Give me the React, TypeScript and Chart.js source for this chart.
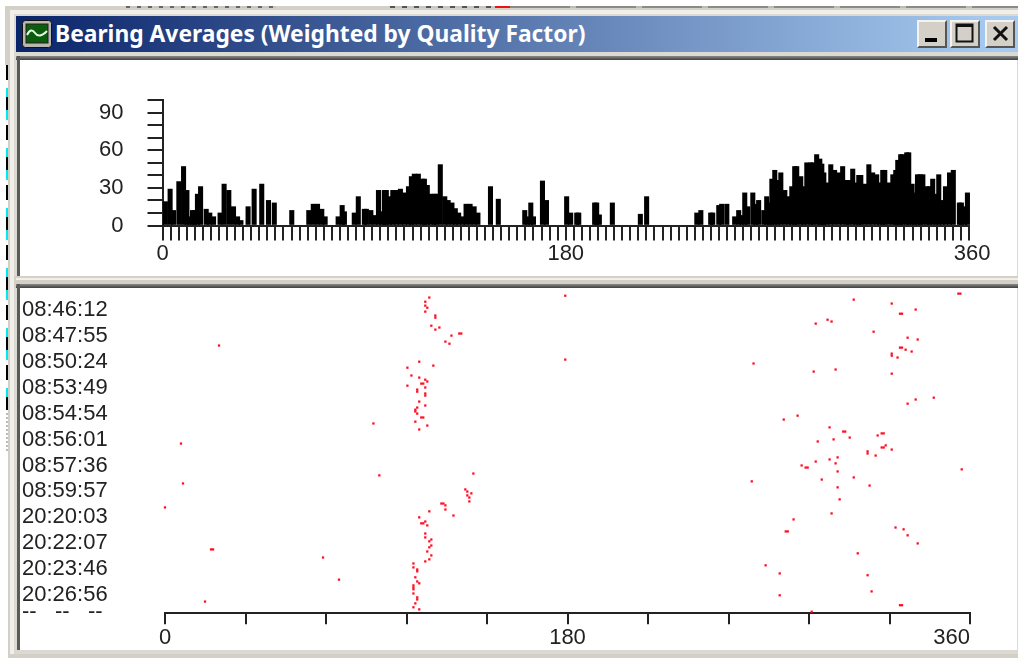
import React, { useEffect, useRef } from "react";
import { Chart, registerables } from "chart.js";

Chart.register(...registerables);

const windowTitle = "Bearing Averages (Weighted by Quality Factor)";

// Histogram: bar centre bearing (degrees) and weighted count
const barDegrees = [
  1.3, 3.4, 4.9, 7.3, 9.4, 10.9, 11.9, 13.4, 14.3, 15.6, 17, 19.5, 21.1, 22.8, 25.7, 27.5, 29.6, 31.7, 33.5, 35,
  38.2, 40.9, 44.3, 47.3, 49.9, 57.7, 65.3, 67.3, 69.2, 71.1, 72.6, 78.4,
  80.2, 81.2, 85.6, 87.4, 90.1, 91, 93, 94.7, 96.4, 97.8, 99, 99.9, 101.3, 102.8, 104.4, 106.2, 108, 109.8,
  111.1, 112.4, 114.2, 116, 116.9, 118.2, 119.6, 121.3, 122.2, 124, 126, 127.5, 129.2, 130.7, 132.2, 133.9,
  135.5, 137.3, 139.1, 140.8, 146.4, 149.9, 161.7, 163, 164.4, 165.6, 169.6, 171.4, 180.4, 182.2, 184.9, 185.8,
  192.9, 193.8, 195, 200.8, 213.3, 216.1,
  238.5, 240.3, 244.7, 245.6, 248.3, 249.6, 251.9, 255.4, 257.2, 258.6, 259.9, 261.2, 263.5, 264.8, 266.1,
  268.4, 269.7, 271, 272, 273.3, 274.6, 276, 277.8, 279.5, 280.9, 282.2, 283.1, 284.9, 286.2, 287.6, 289.4,
  290.3, 292, 293.4, 294.3, 295.2, 296.5, 298.3, 300, 301.9, 303.6, 305.4, 306.3, 308.1, 309.5, 310.8, 311.7,
  313.5, 315.3, 317, 318.8, 320.2, 321.5, 322.4, 324.2, 326, 327.3, 328.2, 329.5, 330.4, 332.2, 333.1, 334.6,
  335.6, 337, 338.2, 339.4, 341.2, 342.3, 343.8, 345.2, 346.5, 348, 349.5, 351.3, 353, 355.7, 356.6, 358, 359.3,
];
const barValues = [
  19, 29, 12, 35, 47, 28, 7, 12, 12, 25, 31, 13, 10, 7, 10, 33, 28, 15, 7, 4,
  15, 29, 33, 20, 18, 12, 12, 17, 17, 13, 7, 7,
  16, 11, 10, 23, 13, 13, 12, 8, 28, 11, 28, 28, 23, 28, 28, 29, 26, 31,
  39, 41, 41, 37, 37, 32, 25, 25, 25, 48.5, 23, 20, 18, 13.5, 10, 7,
  17, 17, 15, 10, 31, 21, 12, 7, 18, 7, 35.5, 20, 23, 10, 10, 10,
  18, 18, 8.5, 18, 9, 23,
  10, 12, 10, 10, 16, 17, 17, 7, 12, 8, 26, 15, 26, 17, 20,
  12, 23, 18, 37, 44, 36, 42, 28, 23, 31, 47, 47, 39, 31, 50, 50,
  50, 56.5, 53, 49, 42, 34, 48.5, 44, 42, 47, 36, 36, 45, 34, 40, 40,
  33, 48.5, 42, 40.5, 34, 44, 44, 34, 40.5, 44, 52, 56.5, 56.5, 58, 58, 33,
  26, 40.5, 40.5, 40.5, 31, 31, 37, 25, 40.5, 20, 31, 42, 44, 18, 18, 15, 26,
];

const topXLabels = [0, 180, 360];
const topYLabels = [0, 30, 60, 90];
const bottomXLabels = [0, 180, 360];

// Time axis labels and their positions on the row scale
const timeLabels = [
  "08:46:12", "08:47:55", "08:50:24", "08:53:49", "08:54:54", "08:56:01",
  "08:57:36", "08:59:57", "20:20:03", "20:22:07", "20:23:46", "20:26:56", "--   --   --",
];
const rowPositions = [0.06, 1.06, 2.06, 3.06, 4.06, 5.06, 6.04, 7.02, 8.02, 9, 10.02, 11.02, 11.65];

// Individual bearing detections: bearing (degrees) and time row
const hitBearings = [
  24.15, 7.16, 8.05, 0, 20.6, 21.5, 70.66, 77.8, 17.9,
  118.2, 116.4, 116.4, 117.3, 116.4, 120.9, 120.9, 119.1, 122.7, 120.9, 128.1, 131.6, 132.5, 125.4, 127.2,
  113.7, 120, 108.4, 110.2, 113.7, 116.4, 117.3, 114.6, 115.5, 108.4, 116.4, 112.8, 112.8, 116.4, 116.4,
  113.7, 116.4, 112.8, 111.95, 111.95, 112.8, 114.6, 115.5, 93.2, 111.95, 117.3, 113.7,
  95.85, 137.9, 134.3, 135.2, 137, 135.2, 136.1, 136.1, 123.6, 124.5, 125.4, 125.4, 118.2, 129,
  113.7, 116.4, 114.6, 115.5, 117.3, 116.4, 116.4, 119.1, 118.2, 119.1, 118.2, 117.3, 119.1, 118.2, 116.4,
  111.1, 111.1, 112.8, 112.8, 111.95, 112.8, 113.7, 111.1, 111.1, 111.1, 111.1, 112.8, 112.8, 111.95, 111.1, 113.7,
  179, 179,
  354.8, 355.7, 308, 325, 335.7, 328.7, 329.6, 291, 296.3, 298.1, 316.9, 332.1, 336.6, 328.7, 329.6, 331.2,
  333.9, 325, 325, 327.6, 263.2, 290.1, 299.9, 325, 343.8, 335.7, 332.1, 282.9, 276.7, 297.2, 303.3, 304.2,
  306.2, 299, 291.9, 318.7, 320.5, 321.4, 322.3, 320.5, 321.4, 325, 314.2, 314.2, 317.8, 300.8, 297.2, 291,
  299.9, 284.7, 286.5, 287.4, 300.8, 356.3, 308, 293.7, 262.4, 315.1, 300.8, 301.7, 298.1, 281.1, 326.7,
  330.3, 332.1, 336.6, 277.6, 278.5, 309.8, 268.6, 274.9, 314.2, 316, 274.9, 328.7, 329.6, 289.2,
];
const hitRows = [
  1.44, 5.2, 6.73, 7.65, 9.26, 9.26, 9.57, 10.42, 11.26,
  -0.4, -0.24, -0.09, -0.01, 0.14, 0.29, 0.37, 0.68, 0.75, 0.83, 1.06, 0.98, 0.98, 1.29, 1.37,
  2.06, 2.21, 2.29, 2.59, 2.67, 2.75, 2.82, 2.9, 2.9, 2.98, 3.05, 3.13, 3.21, 3.28, 3.36,
  3.59, 3.74, 3.82, 3.9, 3.97, 4.05, 4.2, 4.2, 4.43, 4.36, 4.51, 4.66,
  6.42, 6.35, 6.96, 7.04, 7.11, 7.19, 7.27, 7.42, 7.5, 7.5, 7.57, 7.73, 7.8, 7.96,
  8.03, 8.19, 8.26, 8.26, 8.34, 8.65, 8.8, 8.88, 8.95, 9.11, 9.18, 9.34, 9.49, 9.64, 9.72,
  9.8, 9.95, 10.03, 10.1, 10.33, 10.49, 10.56, 10.64, 10.72, 10.79, 10.95, 11.1, 11.18, 11.33, 11.48, 11.56,
  -0.47, 1.98,
  -0.55, -0.55, -0.32, -0.17, 0.06, 0.22, 0.22, 0.6, 0.45, 0.52, 0.91, 1.14, 1.21, 1.52, 1.52, 1.6,
  1.67, 1.75, 1.83, 1.9, 2.13, 2.44, 2.36, 2.52, 3.44, 3.51, 3.67, 4.13, 4.28, 4.58, 4.74, 4.74,
  4.97, 5.04, 5.12, 4.89, 4.81, 4.81, 5.27, 5.35, 5.35, 5.43, 5.5, 5.58, 5.66, 5.73, 5.81, 5.89,
  5.96, 6.04, 6.12, 6.12, 6.27, 6.19, 6.5, 6.58, 6.65, 6.81, 6.88, 7.34, 7.88, 8.11, 8.42,
  8.49, 8.72, 9.03, 8.57, 8.57, 9.41, 9.87, 10.18, 10.25, 10.87, 11.02, 11.4, 11.4, 11.65,
];

const FACE = "#d4d0c8";
const INK = "#222222";
const FONT = { family: "'Liberation Sans', Arial, sans-serif", size: 22 };

function pos(left: number, top: number, width: number, height: number, extra: any = {}) {
  return { position: "absolute", left, top, width, height, ...extra } as React.CSSProperties;
}

function SystemButton({ left, children }: { left: number; children: React.ReactNode }) {
  return (
    <div
      style={pos(left, 20, 30, 28, {
        background: FACE,
        boxSizing: "border-box",
        borderTop: "2px solid #f4f3ef",
        borderLeft: "2px solid #f4f3ef",
        borderRight: "2px solid #555",
        borderBottom: "2px solid #555",
      })}
    >
      <svg width="26" height="24" style={{ display: "block" }}>
        {children}
      </svg>
    </div>
  );
}

export default function App() {
  const topRef = useRef<HTMLCanvasElement>(null);
  const bottomRef = useRef<HTMLCanvasElement>(null);

  useEffect(() => {
    const top = new Chart(topRef.current!, {
      type: "bar",
      data: {
        datasets: [
          {
            label: "Bearing average",
            data: barDegrees.map((x, i) => ({ x, y: barValues[i] })),
            backgroundColor: "#000000",
            barThickness: 4.4,
            borderWidth: 0,
            clip: false as any,
          },
        ],
      },
      options: {
        responsive: false,
        animation: false,
        layout: { padding: { left: 0, right: 47, top: 40, bottom: 0 } },
        plugins: { legend: { display: false }, tooltip: { enabled: false } },
        scales: {
          x: {
            type: "linear",
            min: 0,
            max: 360,
            offset: false,
            afterFit: (s: any) => { s.height = 50.5; },
            border: { color: INK, width: 2 },
            grid: { drawOnChartArea: false, tickLength: 15, color: INK, lineWidth: 2, offset: false },
            ticks: {
              stepSize: 3.6,
              autoSkip: false,
              maxRotation: 0,
              minRotation: 0,
              padding: 0,
              color: INK,
              font: FONT,
              callback: (v: any) => {
                const r = Math.round(Number(v) * 10) / 10;
                if (!topXLabels.includes(r)) return "";
                return r === 360 ? " 360" : String(r);
              },
            },
          },
          y: {
            min: 0,
            max: 100,
            afterFit: (s: any) => { s.width = 142.5; s.paddingTop = 0; s.paddingBottom = 0; },
            border: { color: INK, width: 2 },
            grid: { drawOnChartArea: false, tickLength: 15, color: INK, lineWidth: 2 },
            ticks: {
              stepSize: 10,
              autoSkip: false,
              padding: 24,
              color: INK,
              font: FONT,
              callback: (v: any) => (topYLabels.includes(Number(v)) ? String(v) : ""),
            },
          },
        },
      },
    } as any);

    const bottom = new Chart(bottomRef.current!, {
      type: "scatter",
      data: {
        datasets: [
          {
            label: "Bearing",
            data: hitBearings.map((x, i) => ({ x, y: hitRows[i] })),
            backgroundColor: "#ff0a1e",
            pointStyle: "rect",
            pointRadius: 1.6,
            pointBorderWidth: 0,
            clip: false as any,
          },
        ],
      },
      options: {
        responsive: false,
        animation: false,
        layout: { padding: { left: 2, right: 46, top: 0, bottom: 0 } },
        plugins: { legend: { display: false }, tooltip: { enabled: false } },
        scales: {
          x: {
            type: "linear",
            min: 0,
            max: 360,
            afterFit: (s: any) => { s.height = 36.7; },
            border: { color: INK, width: 2 },
            grid: { drawOnChartArea: false, tickLength: 11, color: INK, lineWidth: 2 },
            ticks: {
              stepSize: 36,
              autoSkip: false,
              maxRotation: 0,
              minRotation: 0,
              padding: 0,
              color: INK,
              font: FONT,
              callback: (v: any) => {
                if (!bottomXLabels.includes(Number(v))) return "";
                return Number(v) === 360 ? "360      " : String(v);
              },
            },
          },
          y: {
            reverse: true,
            min: -0.613,
            max: 11.71,
            afterFit: (s: any) => { s.width = 143; s.paddingTop = 0; s.paddingBottom = 0; },
            afterBuildTicks: (s: any) => { s.ticks = rowPositions.map((value) => ({ value })); },
            border: { display: false },
            grid: { display: false, drawTicks: false },
            ticks: {
              autoSkip: false,
              crossAlign: "far",
              color: INK,
              font: FONT,
              callback: (_v: any, i: number) => timeLabels[i],
            },
          },
        },
      },
    } as any);

    return () => {
      top.destroy();
      bottom.destroy();
    };
  }, []);

  return (
    <div style={pos(0, 0, 1018, 658, { overflow: "hidden", background: "#fff", filter: "blur(0.45px)" })}>
      {/* screen fragments behind the window */}
      <div
        style={pos(6, 65, 2, 345, {
          background:
            "repeating-linear-gradient(180deg,#000 0 15px,#fff 15px 23px,#00e8f0 23px 32px,#000 32px 45px,#00e8f0 45px 55px,#fff 55px 60px)",
        })}
      />
      <div style={pos(6, 413, 2, 38, { background: "repeating-linear-gradient(180deg,#bbb 0 2px,#fff 2px 4px)" })} />

      {/* window frame */}
      <div style={pos(5, 6, 1013, 59, { background: FACE })} />
      <div style={pos(126, 6, 150, 2, { background: "repeating-linear-gradient(90deg,#666 0 4px,#c8c6c0 4px 11px)" })} />
      <div style={pos(390, 6, 105, 2, { background: "repeating-linear-gradient(90deg,#555 0 5px,#c8c6c0 5px 12px)" })} />
      <div style={pos(495, 6, 15, 2, { background: "#f01010" })} />
      <div style={pos(510, 6, 508, 2, { background: "repeating-linear-gradient(90deg,#8a8a86 0 60px,#bdbbb5 60px 66px)" })} />
      <div style={pos(8, 65, 1010, 593, { background: FACE })} />
      <div style={pos(10, 10, 1008, 644, { background: "#f1efea" })} />
      <div style={pos(14, 14, 1004, 640, { background: "#dcd9d2" })} />

      {/* title bar */}
      <div style={pos(16, 16, 1002, 36, { background: "linear-gradient(90deg,#0a246a,#a6caf0 98%)" })} />
      <svg style={pos(22, 20, 30, 28)} viewBox="0 0 30 28">
        <rect x="0.5" y="0.5" width="29" height="27" rx="3" fill="#b9b7b0" stroke="#111" />
        <rect x="4" y="4" width="22" height="19" fill="#0b5d0b" stroke="#222" />
        <path d="M5 15 Q9 7 13 13 T25 11" fill="none" stroke="#e8f8e8" strokeWidth="2" />
      </svg>
      <div
        style={pos(55, 16, 600, 36, {
          color: "#fff",
          font: "bold 22.8px 'Noto Sans', 'DejaVu Sans', sans-serif",
          lineHeight: "36px",
          whiteSpace: "nowrap",
        })}
      >
        {windowTitle}
      </div>
      <SystemButton left={917}>
        <rect x="6" y="16" width="12" height="4" fill="#000" />
      </SystemButton>
      <SystemButton left={950}>
        <rect x="4.5" y="2.5" width="16" height="17" fill="none" stroke="#111" strokeWidth="2" />
        <rect x="4" y="2" width="17" height="3" fill="#111" />
      </SystemButton>
      <SystemButton left={985}>
        <path d="M7 5 L20 18 M20 5 L7 18" stroke="#111" strokeWidth="3" />
      </SystemButton>

      {/* top panel */}
      <div style={pos(16, 56, 1002, 4, { background: "linear-gradient(180deg,#8a8a86,#3f3f3f)" })} />
      <div style={pos(17, 56, 3, 220, { background: "#5a5a58" })} />
      <div style={pos(20, 60, 997, 216, { background: "#fff" })} />
      <canvas ref={topRef} width={996} height={216} style={pos(20, 60, 996, 216, { display: "block" })} />

      {/* divider */}
      <div style={pos(14, 276, 1004, 12, { background: FACE })} />
      <div style={pos(16, 278, 1002, 2, { background: "#f1efea" })} />
      <div style={pos(16, 284, 1002, 4, { background: "linear-gradient(180deg,#8a8a86,#3f3f3f)" })} />

      {/* bottom panel */}
      <div style={pos(17, 284, 3, 366, { background: "#5a5a58" })} />
      <div style={pos(20, 288, 997, 362, { background: "#fff" })} />
      <canvas ref={bottomRef} width={996} height={362} style={pos(20, 288, 996, 362, { display: "block" })} />
    </div>
  );
}
